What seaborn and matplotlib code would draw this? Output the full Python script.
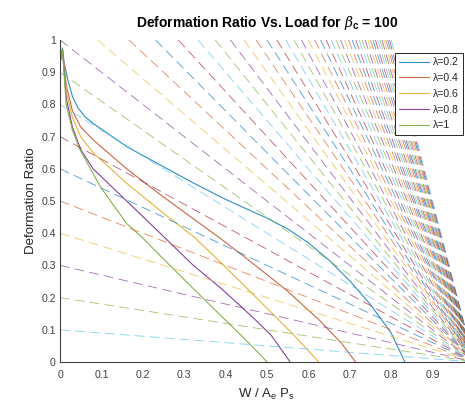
import numpy as np
import pandas as pd
import matplotlib
matplotlib.use("Agg")
import matplotlib.pyplot as plt
from matplotlib.ticker import FuncFormatter
import seaborn as sns

# solid curves: deformation ratio vs load, one per lambda
lam_labels = ["λ=0.2", "λ=0.4", "λ=0.6", "λ=0.8", "λ=1"]
lam_colors = ["#2e8fc2", "#c56a45", "#e6b43c", "#85449a", "#86b24a"]

w_02 = [0, 0.006, 0.01, 0.019, 0.03, 0.043, 0.06, 0.08, 0.161, 0.242, 0.322, 0.4, 0.5,
        0.55, 0.6, 0.65, 0.7, 0.75, 0.8, 0.833]
d_02 = [0.93, 0.975, 0.93, 0.876, 0.825, 0.79, 0.762, 0.741, 0.669, 0.612, 0.556, 0.505, 0.447,
        0.413, 0.37, 0.316, 0.252, 0.178, 0.09, 0.0]

w_04 = [0, 0.006, 0.015, 0.03, 0.05, 0.08, 0.161, 0.242, 0.322, 0.386, 0.435, 0.467, 0.548,
        0.628, 0.68, 0.714]
d_04 = [0.93, 0.97, 0.86, 0.78, 0.73, 0.69, 0.60, 0.52, 0.445, 0.385, 0.337, 0.305, 0.222,
        0.128, 0.058, 0.0]

w_06 = [0, 0.006, 0.015, 0.03, 0.05, 0.08, 0.161, 0.242, 0.322, 0.386, 0.435, 0.507, 0.56,
        0.6, 0.625]
d_06 = [0.93, 0.97, 0.84, 0.76, 0.70, 0.65, 0.555, 0.47, 0.39, 0.312, 0.25, 0.158, 0.09,
        0.035, 0.0]

w_08 = [0, 0.006, 0.015, 0.03, 0.05, 0.08, 0.161, 0.242, 0.322, 0.386, 0.435, 0.467, 0.51,
        0.556]
d_08 = [0.93, 0.97, 0.82, 0.73, 0.66, 0.60, 0.50, 0.40, 0.30, 0.232, 0.175, 0.137, 0.083,
        0.0]

w_10 = [0, 0.006, 0.015, 0.03, 0.048, 0.097, 0.161, 0.2, 0.242, 0.322, 0.386, 0.435, 0.47,
        0.5]
d_10 = [0.93, 0.97, 0.80, 0.72, 0.66, 0.545, 0.43, 0.385, 0.33, 0.228, 0.147, 0.086, 0.041,
        0.0]

curves_w = [w_02, w_04, w_06, w_08, w_10]
curves_d = [d_02, d_04, d_06, d_08, d_10]

# dashed guide lines d = c (1 - W), slopes c read from the left edge / top edge
guide_c = [round(0.1 * k, 1) for k in range(50, 0, -1)]   # plotted 5.0 down to 0.1

# MATLAB default colour order (guides continue the cycle after the 5 curves)
matlab_order = ["#0072BD", "#D95319", "#EDB120", "#7E2F8E", "#77AC30", "#4DBEEE", "#A2142F"]

x_ticks = [0, 0.1, 0.2, 0.3, 0.4, 0.5, 0.6, 0.7, 0.8, 0.9]
y_ticks = [0, 0.1, 0.2, 0.3, 0.4, 0.5, 0.6, 0.7, 0.8, 0.9, 1.0]

sns.set_theme(style="white")
plt.rcParams["font.family"] = ["Liberation Sans", "DejaVu Sans"]
plt.rcParams["mathtext.fontset"] = "custom"
plt.rcParams["mathtext.rm"] = "Liberation Sans"
plt.rcParams["mathtext.bf"] = "Liberation Sans:bold"
plt.rcParams["mathtext.it"] = "DejaVu Serif:italic"
plt.rcParams["lines.scale_dashes"] = False

fig = plt.figure(figsize=(4.65, 4.08), dpi=100)
ax = fig.add_axes([60 / 465, 46 / 408, 414 / 465, 322 / 408])

# solid curves first (they own the legend)
rows = []
for lab, ws, ds in zip(lam_labels, curves_w, curves_d):
    for i, (w, d) in enumerate(zip(ws, ds)):
        rows.append({"lam": lab, "idx": i, "W": w, "D": d})
curve_df = pd.DataFrame(rows)
sns.lineplot(data=curve_df, x="W", y="D", hue="lam", palette=lam_colors,
             hue_order=lam_labels, sort=False, estimator=None, units="lam",
             linewidth=0.8, ax=ax, legend=True)

# dashed guides, each from where it enters the box down to (1, 0)
grows = []
for k, c in enumerate(guide_c):
    x0 = 0.0 if c <= 1 else 1 - 1 / c
    y0 = min(c, 1.0)
    grows.append({"g": k, "W": x0, "D": y0})
    grows.append({"g": k, "W": 1.0, "D": 0.0})
guide_df = pd.DataFrame(grows)
guide_pal = [matlab_order[(5 + k) % 7] for k in range(len(guide_c))]
sns.lineplot(data=guide_df, x="W", y="D", hue="g", palette=guide_pal,
             sort=False, estimator=None, linewidth=0.6, alpha=0.7,
             dashes=(7.0, 3.8), ax=ax, legend=False)

ax.set_xlim(0, 1)
ax.set_ylim(0, 1)
ax.set_xticks(x_ticks)
ax.set_yticks(y_ticks)
fmt = FuncFormatter(lambda v, p: f"{v:g}")
ax.xaxis.set_major_formatter(fmt)
ax.yaxis.set_major_formatter(fmt)
ax.tick_params(axis="both", direction="in", length=3, width=0.6,
               colors="#404040", labelsize=7.6)
ax.tick_params(axis="x", pad=6)
ax.tick_params(axis="y", pad=3)
for side in ["top", "right"]:
    ax.spines[side].set_visible(False)
for side in ["left", "bottom"]:
    ax.spines[side].set_color("#404040")
    ax.spines[side].set_linewidth(0.8)

ax.set_xlabel(r"W / A$_{\mathrm{e}}$ P$_{\mathrm{s}}$", fontsize=9.5, color="#262626", labelpad=5)
ax.set_ylabel("Deformation Ratio", fontsize=9.5, color="#262626", labelpad=3)
ax.set_title(r"Deformation Ratio Vs. Load for $\mathit{\beta}_{\mathbf{c}}$ = 100",
             fontsize=10, fontweight="bold", color="black", pad=9)

handles, labels = ax.get_legend_handles_labels()
leg = ax.legend(handles[:5], labels[:5], loc="upper right",
                bbox_to_anchor=(463 / 465, 1 - 53 / 408), bbox_transform=fig.transFigure,
                borderaxespad=0, fancybox=False, framealpha=1, edgecolor="#262626",
                fontsize=7.6, handlelength=2.8, handletextpad=0.4,
                labelspacing=0.55, borderpad=0.4, title=None)
leg.get_frame().set_linewidth(0.7)
for t in leg.get_texts():
    t.set_color("#262626")

fig.savefig("out.png", dpi=100)
